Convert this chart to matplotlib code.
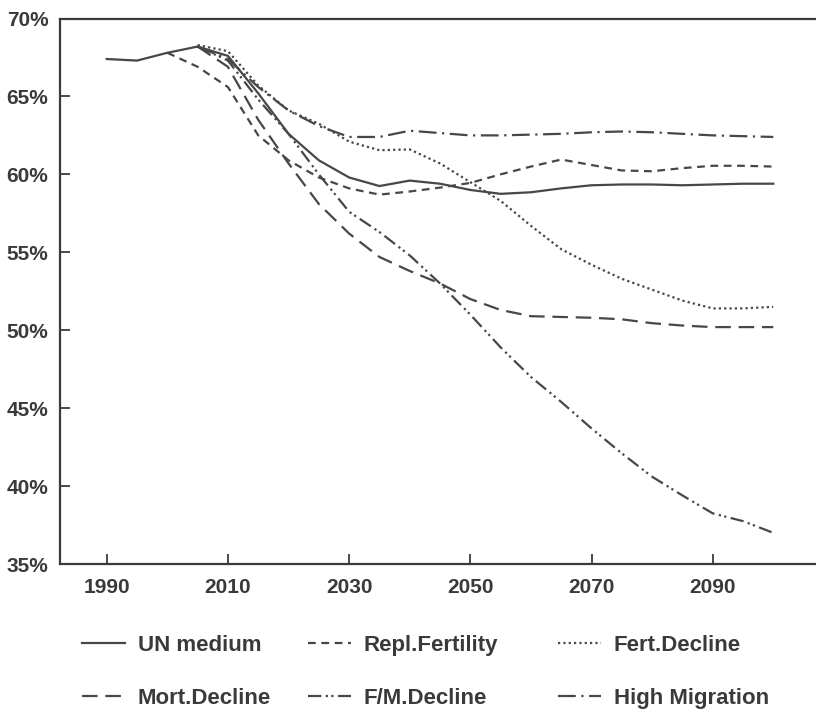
import numpy as np
import matplotlib
matplotlib.use("Agg")
import matplotlib.pyplot as plt
from matplotlib.font_manager import FontProperties

# ── data (share of population aged 15-64, %) ─────────────────
years_un = np.arange(1990, 2101, 5)
un_medium = [67.4, 67.3, 67.8, 68.2, 67.6, 65.2, 62.6, 60.9, 59.8, 59.25,
             59.6, 59.4, 59.0, 58.75, 58.85, 59.1, 59.3, 59.35, 59.35, 59.3,
             59.35, 59.4, 59.4]

years_repl = np.arange(2000, 2101, 5)
repl_fertility = [67.8, 66.9, 65.6, 62.5, 60.9, 59.8, 59.1, 58.7, 58.9, 59.15,
                  59.45, 60.0, 60.5, 60.95, 60.6, 60.25, 60.2, 60.4, 60.55,
                  60.55, 60.5]

years_sc = np.arange(2005, 2101, 5)
fert_decline = [68.3, 67.9, 65.7, 64.1, 63.25, 62.1, 61.55, 61.6, 60.7, 59.5,
                58.3, 56.7, 55.2, 54.2, 53.3, 52.6, 51.9, 51.4, 51.4, 51.5]
mort_decline = [68.2, 66.9, 63.5, 60.7, 58.1, 56.2, 54.7, 53.8, 53.0, 52.0,
                51.3, 50.9, 50.85, 50.8, 50.7, 50.45, 50.3, 50.2, 50.2, 50.2]
fm_decline = [68.2, 67.3, 64.8, 62.6, 60.0, 57.6, 56.3, 54.8, 53.0, 51.0,
              48.9, 47.0, 45.4, 43.7, 42.1, 40.6, 39.4, 38.25, 37.75, 37.0]
high_migration = [68.2, 67.4, 65.6, 64.1, 63.1, 62.4, 62.4, 62.8, 62.65, 62.5,
                  62.5, 62.55, 62.6, 62.7, 62.75, 62.7, 62.6, 62.5, 62.45, 62.4]

xticks = [1990, 2010, 2030, 2050, 2070, 2090]
yticks = [35, 40, 45, 50, 55, 60, 65, 70]

# ── style ────────────────────────────────────────────────────
INK = "#3a3a3a"
LINE = "#474747"
plt.rcParams["font.family"] = ["Liberation Sans", "DejaVu Sans"]

fig = plt.figure(figsize=(8.16, 7.16), dpi=100)
ax = fig.add_axes([59.5 / 816, 1 - 564 / 716, 1 - 59.5 / 816, (564 - 18.5) / 716])

lw = 1.6
series = [
    (years_un, un_medium, "UN medium", "-"),
    (years_repl, repl_fertility, "Repl.Fertility", (0, (3.5, 2.5))),
    (years_sc, fert_decline, "Fert.Decline", (0, (1, 1.4))),
    (years_sc, mort_decline, "Mort.Decline", (0, (7, 3.5))),
    (years_sc, fm_decline, "F/M.Decline", (0, (6, 2, 1, 1.5, 1, 2))),
    (years_sc, high_migration, "High Migration", (0, (8, 2.5, 1, 2.5))),
]
handles = []
for x, y, lab, ls in series:
    h, = ax.plot(x, y, color=LINE, lw=lw, linestyle=ls, label=lab)
    handles.append(h)

ax.set_xlim(1982.2, 2107.05)
ax.set_ylim(35, 70)
ax.set_xticks(xticks)
ax.set_yticks(yticks)
ax.set_yticklabels([f"{v}%" for v in yticks])
ax.tick_params(direction="in", length=7, width=1.3, color=INK, labelcolor=INK,
               labelsize=15, pad=8)
for lab in ax.get_xticklabels() + ax.get_yticklabels():
    lab.set_fontweight("bold")
ax.tick_params(axis="x", pad=10)
ax.spines["right"].set_visible(False)
for s in ("left", "top", "bottom"):
    ax.spines[s].set_color(INK)
    ax.spines[s].set_linewidth(1.6)

# legend below the axes: three columns, two rows each
leg_font = FontProperties(family=["Liberation Sans", "DejaVu Sans"],
                          weight="bold", size=16)
columns = [(82, [0, 3]), (308, [1, 4]), (558, [2, 5])]
for x0, idx in columns:
    leg = fig.legend([handles[i] for i in idx], [handles[i].get_label() for i in idx],
                     loc="upper left", bbox_to_anchor=(x0 / 816, 1 - 635 / 716),
                     ncol=1, frameon=False, prop=leg_font, handlelength=1.95,
                     handletextpad=0.55, labelspacing=1.45,
                     borderpad=0, borderaxespad=0)
    for t in leg.get_texts():
        t.set_color(INK)

fig.savefig("out.png", dpi=100, facecolor="white")
